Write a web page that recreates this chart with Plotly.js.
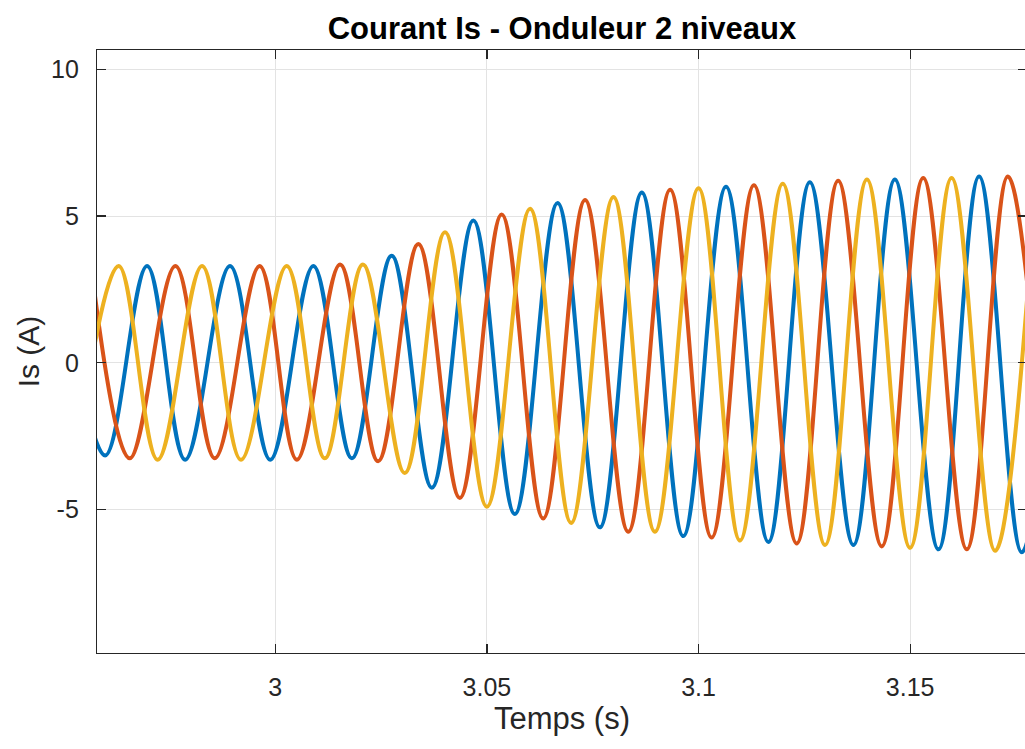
<!DOCTYPE html>
<html>
<head>
<meta charset="utf-8">
<script src="https://cdn.plot.ly/plotly-3.0.1.min.js"></script>
<style>
  html, body { margin: 0; padding: 0; background: #ffffff; overflow: hidden; }
  #chart { width: 1030px; height: 749px; }
</style>
</head>
<body>
<div id="chart"></div>
<script>
// Extrema (peaks / troughs) of each phase current: time (s), current (A)
const blueT = [2.9498, 2.9598, 2.9697, 2.9787, 2.9893, 2.9988, 3.0090, 3.0181, 3.0275, 3.0370, 3.0468, 3.0566, 3.0667, 3.0767, 3.0866, 3.0964, 3.1065, 3.1165, 3.1263, 3.1366, 3.1464, 3.1567, 3.1663, 3.1764, 3.1864];
const blueI = [3.3, -3.15, 3.3, -3.3, 3.3, -3.3, 3.3, -3.25, 3.65, -4.25, 4.85, -5.15, 5.45, -5.6, 5.8, -5.9, 6.0, -6.1, 6.15, -6.2, 6.25, -6.35, 6.35, -6.45, 6.4];

const redT = [2.9565, 2.9656, 2.9764, 2.9857, 2.9963, 3.0051, 3.0153, 3.0243, 3.0338, 3.0436, 3.0535, 3.0633, 3.0732, 3.0834, 3.0933, 3.1031, 3.1131, 3.1232, 3.1330, 3.1433, 3.1531, 3.1634, 3.1731, 3.1831];
const redI = [3.3, -3.25, 3.3, -3.25, 3.3, -3.3, 3.35, -3.35, 4.05, -4.6, 5.05, -5.3, 5.55, -5.75, 5.9, -5.95, 6.05, -6.15, 6.2, -6.25, 6.3, -6.35, 6.35, -6.4];

const yellowT = [2.9529, 2.9630, 2.9722, 2.9827, 2.9919, 3.0027, 3.0117, 3.0207, 3.0306, 3.0401, 3.0500, 3.0602, 3.0699, 3.0799, 3.0897, 3.1000, 3.1098, 3.1199, 3.1299, 3.1398, 3.1500, 3.1598, 3.1701, 3.1798];
const yellowI = [-3.25, 3.3, -3.3, 3.3, -3.3, 3.3, -3.25, 3.35, -3.75, 4.45, -4.9, 5.25, -5.45, 5.65, -5.75, 5.95, -6.05, 6.1, -6.2, 6.25, -6.3, 6.3, -6.4, 6.4];

const xTickVals = [3, 3.05, 3.1, 3.15];
const xTickText = ['3', '3.05', '3.1', '3.15'];
const yTickVals = [-5, 0, 5, 10];
const yTickText = ['-5', '0', '5', '10'];

const FONT = 'Liberation Sans, Arial, Helvetica, sans-serif';
const TXT = '#262626';

function phase(x, y, color) {
  return {
    x: x, y: y, type: 'scatter', mode: 'lines',
    line: { color: color, width: 4, shape: 'spline', smoothing: 1.05 },
    hoverinfo: 'skip', showlegend: false
  };
}

const data = [
  phase(blueT, blueI, '#0072BD'),
  phase(redT, redI, '#D95319'),
  phase(yellowT, yellowI, '#EDB120')
];

const axisCommon = {
  showline: true, linecolor: TXT, linewidth: 1.2, mirror: 'ticks',
  ticks: 'inside', ticklen: 9, tickwidth: 1.2, tickcolor: TXT,
  showgrid: true, gridcolor: '#e3e3e3', gridwidth: 1,
  zeroline: false, tickmode: 'array',
  tickfont: { family: FONT, size: 25, color: TXT }
};

const layout = {
  width: 1030, height: 749,
  margin: { l: 97, r: 3, t: 50, b: 96 },
  paper_bgcolor: '#ffffff', plot_bgcolor: '#ffffff',
  title: {
    text: '<b>Courant Is - Onduleur 2 niveaux</b>',
    font: { family: FONT, size: 31, color: '#000000' },
    x: 0.5, xref: 'paper', xanchor: 'center',
    y: 1 - 28 / 749, yref: 'container', yanchor: 'middle'
  },
  xaxis: Object.assign({}, axisCommon, {
    range: [2.95787, 3.17762],
    tickvals: xTickVals, ticktext: xTickText,
    ticklabelstandoff: 12,
    title: { text: 'Temps (s)', font: { family: FONT, size: 31, color: TXT }, standoff: 6 }
  }),
  yaxis: Object.assign({}, axisCommon, {
    range: [-9.881, 10.657],
    tickvals: yTickVals, ticktext: yTickText,
    ticklabelstandoff: 12,
    title: { text: 'Is (A)', font: { family: FONT, size: 30, color: TXT }, standoff: 2 }
  })
};

Plotly.newPlot('chart', data, layout, { staticPlot: true, displayModeBar: false });
</script>
</body>
</html>
